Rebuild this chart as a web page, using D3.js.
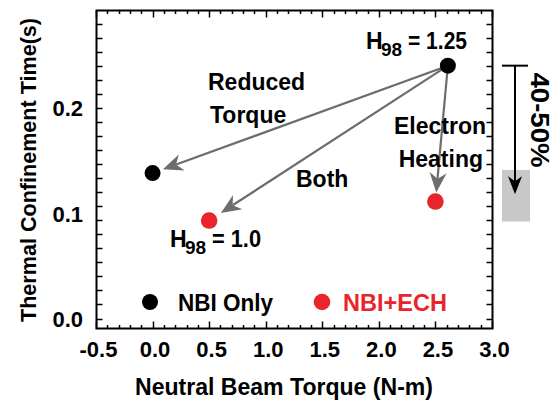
<!DOCTYPE html>
<html><head><meta charset="utf-8">
<script src="https://cdn.jsdelivr.net/npm/d3@7"></script>
<style>
html,body{margin:0;padding:0;background:#fff;}
svg text{font-family:"Liberation Sans",Arial,Helvetica,sans-serif;font-weight:bold;}
</style></head>
<body>
<svg id="chart" width="560" height="402"></svg>
<script>
// ---- data ----
const seriesNames = ["NBI Only", "NBI+ECH"];
const nbiTorque = [0.0, 2.61];
const nbiTau = [0.138, 0.240];
const echTorque = [0.5, 2.5];
const echTau = [0.093, 0.111];
const xTickValues = [-0.5, 0.0, 0.5, 1.0, 1.5, 2.0, 2.5, 3.0];
const xTickLabels = ["-0.5", "0.0", "0.5", "1.0", "1.5", "2.0", "2.5", "3.0"];
const yTickValues = [0.0, 0.1, 0.2];
const yTickLabels = ["0.0", "0.1", "0.2"];
const arrowTexts = ["Reduced", "Torque", "Both", "Electron", "Heating"];
const h98Labels = ["1.25", "1.0"];
const gaugeLabel = "40-50%";
const gaugeRange = [0.092, 0.141];   // shaded band (tau)
const gaugeFrom = 0.240, gaugeTo = 0.118;

// ---- layout ----
const svg = d3.select("#chart");
const L = 96.5, R = 492.5, T = 10.5, B = 328.5;
const x = d3.scaleLinear().domain([-0.5, 3.0]).range([96, 492]);
const y = d3.scaleLinear().domain([0, 0.1]).range([318.5, 213.15]);
const black = "#000", red = "#e8252b", gray = "#6d6d6d";

// frame
svg.append("rect").attr("x", L).attr("y", T).attr("width", R - L).attr("height", B - T)
  .attr("fill", "none").attr("stroke", "#000").attr("stroke-width", 2);

// x minor/major ticks (bottom up, top down)
const xMinor = d3.range(-5, 31).map(i => i / 10);
xMinor.forEach(v => {
  const major = Math.abs(Math.round(v * 10) % 5) === 0;
  const len = major ? 7 : 3.5;
  const px = Math.round(x(v)) + 0.5;
  svg.append("line").attr("x1", px).attr("x2", px).attr("y1", B).attr("y2", B - len).attr("stroke", "#000").attr("stroke-width", 1.5);
  svg.append("line").attr("x1", px).attr("x2", px).attr("y1", T).attr("y2", T + len).attr("stroke", "#000").attr("stroke-width", 1.5);
});
// y ticks
const yMinor = d3.range(0, 23).map(i => i * 0.2 / 15);
yMinor.forEach(v => {
  const py = Math.round(y(v)) + 0.5;
  if (py < T + 3) return;
  svg.append("line").attr("x1", L).attr("x2", L + 6).attr("y1", py).attr("y2", py).attr("stroke", "#000").attr("stroke-width", 1.5);
  svg.append("line").attr("x1", R).attr("x2", R - 6).attr("y1", py).attr("y2", py).attr("stroke", "#000").attr("stroke-width", 1.5);
});

// axes labels via d3 axis (tick labels only)
const xAxis = d3.axisBottom(x).tickValues(xTickValues).tickFormat((d, i) => xTickLabels[i]).tickSize(0).tickPadding(0);
const gx = svg.append("g").attr("transform", "translate(2,357)").call(xAxis);
gx.select(".domain").remove();
gx.selectAll("text").attr("font-size", 22).attr("fill", "#000").attr("dy", 0)
  .attr("font-family", "'Liberation Sans',Arial,sans-serif").attr("font-weight", "bold");

const yAxis = d3.axisLeft(y).tickValues(yTickValues).tickFormat((d, i) => yTickLabels[i]).tickSize(0).tickPadding(0);
const gy = svg.append("g").attr("transform", "translate(83,0)").call(yAxis);
gy.select(".domain").remove();
gy.selectAll("text").attr("font-size", 22).attr("fill", "#000").attr("dy", "0.36em")
  .attr("font-family", "'Liberation Sans',Arial,sans-serif").attr("font-weight", "bold");

// axis titles
svg.append("text").attr("x", 284).attr("y", 395).attr("text-anchor", "middle")
  .attr("font-size", 23).attr("textLength", 298).attr("lengthAdjust", "spacingAndGlyphs")
  .text("Neutral Beam Torque (N-m)");
svg.append("text").attr("transform", "translate(36,170) rotate(-90)").attr("text-anchor", "middle")
  .attr("font-size", 22).attr("textLength", 304).attr("lengthAdjust", "spacingAndGlyphs")
  .text("Thermal Confinement Time(s)");

// arrows
function arrow(x1, y1, x2, y2, gap) {
  const dx = x2 - x1, dy = y2 - y1, d = Math.hypot(dx, dy);
  const ux = dx / d, uy = dy / d;
  const tx = x2 - ux * gap, ty = y2 - uy * gap;
  const hl = 20, hw = 8.5, notch = 14;
  const bx = tx - ux * hl, by = ty - uy * hl;
  const nx = tx - ux * notch, ny = ty - uy * notch;
  svg.append("line").attr("x1", x1).attr("y1", y1).attr("x2", nx).attr("y2", ny)
    .attr("stroke", gray).attr("stroke-width", 2.2);
  svg.append("path").attr("d", `M${tx},${ty}L${bx - uy * hw},${by + ux * hw}L${nx},${ny}L${bx + uy * hw},${by - ux * hw}Z`)
    .attr("fill", gray);
}
const sx = x(nbiTorque[1]), sy = y(nbiTau[1]);
arrow(sx, sy, x(nbiTorque[0]), y(nbiTau[0]), 11);
arrow(sx, sy, x(echTorque[0]), y(echTau[0]), 14);
arrow(sx, sy, x(echTorque[1]), y(echTau[1]), 9);

// points
svg.selectAll("circle.nbi").data(nbiTorque).enter().append("circle")
  .attr("cx", (d) => x(d)).attr("cy", (d, i) => y(nbiTau[i])).attr("r", 8).attr("fill", black);
svg.selectAll("circle.ech").data(echTorque).enter().append("circle")
  .attr("cx", (d) => x(d)).attr("cy", (d, i) => y(echTau[i])).attr("r", 8.3).attr("fill", red);

// annotations [x, baseline, anchor]
const annPos = [[208, 90, "start"], [210, 123, "start"], [296, 187, "start"], [486, 134, "end"], [483, 167, "end"]];
arrowTexts.forEach((t, i) => {
  svg.append("text").attr("x", annPos[i][0]).attr("y", annPos[i][1]).attr("text-anchor", annPos[i][2])
    .attr("font-size", 23).text(t);
});

function h98(xh, base, val, wVal) {
  const t = svg.append("text").attr("y", base).attr("font-size", 23);
  t.append("tspan").attr("x", xh).text("H");
  t.append("tspan").attr("x", xh + 15).attr("dy", 7).attr("font-size", 19).text("98");
  t.append("tspan").attr("x", xh + 42).attr("dy", -7).attr("textLength", wVal).attr("lengthAdjust", "spacingAndGlyphs").text("= " + val);
}
h98(366, 49, h98Labels[0], 59);
h98(170, 247, h98Labels[1], 49);

// legend
const legY = 302;
svg.append("circle").attr("cx", 150).attr("cy", legY).attr("r", 8).attr("fill", black);
svg.append("text").attr("x", 178).attr("y", 311).attr("font-size", 23).attr("textLength", 95)
  .attr("lengthAdjust", "spacingAndGlyphs").attr("fill", black).text(seriesNames[0]);
svg.append("circle").attr("cx", 322).attr("cy", legY).attr("r", 8.3).attr("fill", red);
svg.append("text").attr("x", 343).attr("y", 311).attr("font-size", 23).attr("textLength", 104)
  .attr("lengthAdjust", "spacingAndGlyphs").attr("fill", red).text(seriesNames[1]);

// right gauge
svg.append("rect").attr("x", 502).attr("y", y(gaugeRange[1])).attr("width", 28)
  .attr("height", y(gaugeRange[0]) - y(gaugeRange[1])).attr("fill", "#c8c8c8");
const gxp = 515;
svg.append("line").attr("x1", 502).attr("x2", 528).attr("y1", y(gaugeFrom)).attr("y2", y(gaugeFrom)).attr("stroke", "#000").attr("stroke-width", 2);
svg.append("line").attr("x1", gxp).attr("x2", gxp).attr("y1", y(gaugeFrom)).attr("y2", y(gaugeTo) - 12).attr("stroke", "#000").attr("stroke-width", 2);
svg.append("path").attr("d", `M${gxp},${y(gaugeTo)}L${gxp - 7},${y(gaugeTo) - 18}L${gxp},${y(gaugeTo) - 13}L${gxp + 7},${y(gaugeTo) - 18}Z`).attr("fill", "#000");
svg.append("text").attr("transform", "translate(531,120) rotate(90)").attr("text-anchor", "middle")
  .attr("font-size", 26).attr("textLength", 95).attr("lengthAdjust", "spacingAndGlyphs").text(gaugeLabel);
</script>
</body></html>
